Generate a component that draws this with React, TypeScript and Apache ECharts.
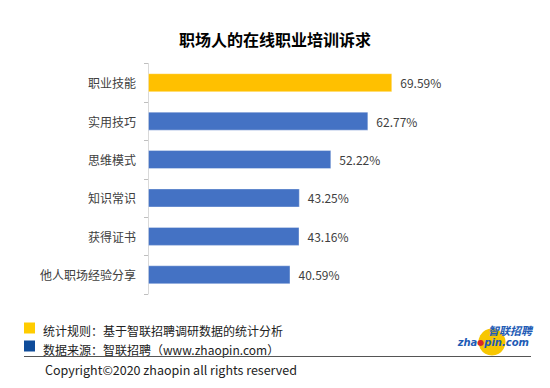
import React, { useEffect, useRef } from "react";
import * as echarts from "echarts";

const titleText = "职场人的在线职业培训诉求";
const categories = ["职业技能", "实用技巧", "思维模式", "知识常识", "获得证书", "他人职场经验分享"];
const values = [69.59, 62.77, 52.22, 43.25, 43.16, 40.59];
const highlightColor = "#FFC000";
const barColor = "#4472C4";
const noteLine1 = "统计规则：基于智联招聘调研数据的统计分析";
const noteLine2 = "数据来源：智联招聘（www.zhaopin.com）";
const copyright = "Copyright©2020 zhaopin all rights reserved";

const FONT = "'Noto Sans CJK SC', 'Noto Sans', sans-serif";

export default function App() {
  const ref = useRef<HTMLDivElement>(null);
  useEffect(() => {
    if (!ref.current) return;
    const chart = echarts.init(ref.current, null, { renderer: "svg" });
    const logoBlue = "#1D5BB5";
    chart.setOption({
      animation: false,
      backgroundColor: "#ffffff",
      textStyle: { fontFamily: FONT },
      title: {
        text: titleText,
        left: "center",
        top: 26,
        textStyle: { fontSize: 16, fontWeight: "bold", color: "#000", fontFamily: FONT },
      },
      grid: { left: 148, right: 51, top: 63.5, bottom: 94 },
      xAxis: { type: "value", min: 0, max: 100, show: false },
      yAxis: {
        type: "category",
        inverse: true,
        data: categories,
        axisLine: { show: true, lineStyle: { color: "#d9d9d9", width: 1 } },
        axisTick: { show: true, length: 4, lineStyle: { color: "#bfbfbf" } },
        axisLabel: { fontSize: 12, color: "#404040", margin: 12, fontFamily: FONT },
      },
      series: [
        {
          type: "bar",
          barWidth: 19,
          data: values.map((v, i) => ({
            value: v,
            itemStyle: { color: i === 0 ? highlightColor : barColor },
          })),
          itemStyle: { borderColor: "rgba(255,255,255,0.35)", borderWidth: 1 },
          label: {
            show: true,
            position: "right",
            distance: 8,
            fontSize: 12,
            color: "#404040",
            fontFamily: FONT,
            formatter: (p: any) => Number(p.value).toFixed(2) + "%",
          },
        },
      ],
      graphic: [
        { type: "rect", shape: { x: 24, y: 322.5, width: 11, height: 11 }, style: { fill: "#FFCC00" } },
        { type: "rect", shape: { x: 24, y: 340.5, width: 11, height: 11 }, style: { fill: "#0F4C9A" } },
        {
          type: "text",
          x: 43,
          y: 330,
          style: { text: noteLine1, fontSize: 12, fill: "#222", fontFamily: FONT, verticalAlign: "middle" },
        },
        {
          type: "text",
          x: 43,
          y: 349,
          style: { text: noteLine2, fontSize: 12, fill: "#222", fontFamily: FONT, verticalAlign: "middle" },
        },
        { type: "line", shape: { x1: 24, y1: 356.5, x2: 531, y2: 356.5 }, style: { stroke: "#555", lineWidth: 1 } },
        {
          type: "text",
          x: 45,
          y: 369.5,
          style: { text: copyright, fontSize: 12.5, fill: "#222", fontFamily: FONT, verticalAlign: "middle" },
        },
        { type: "circle", shape: { cx: 492, cy: 342, r: 13.5 }, style: { fill: "#F7C600" } },
        {
          type: "text",
          x: 532,
          y: 336,
          style: {
            text: "{c|智联招聘}\n{a|zha}{b|●}{d|pin.com}",
            align: "right",
            verticalAlign: "middle",
            rich: {
              c: { fontSize: 11, fontWeight: "bold", fontStyle: "italic", fill: logoBlue, fontFamily: FONT, lineHeight: 13 },
              a: { fontSize: 10, fontWeight: "bold", fontStyle: "italic", fill: logoBlue, fontFamily: "'DejaVu Sans', sans-serif", lineHeight: 12 },
              d: { fontSize: 10, fontWeight: "bold", fontStyle: "italic", fill: logoBlue, fontFamily: "'DejaVu Sans', sans-serif", lineHeight: 12, padding: [0, 3, 0, 0] },
              b: { fontSize: 8, fill: "#D8262C", fontFamily: "'DejaVu Sans', sans-serif", lineHeight: 12 },
            },
          },
        },
      ],
    });
    return () => chart.dispose();
  }, []);
  return <div ref={ref} style={{ position: "absolute", left: 0, top: 0, width: 550, height: 388 }} />;
}
